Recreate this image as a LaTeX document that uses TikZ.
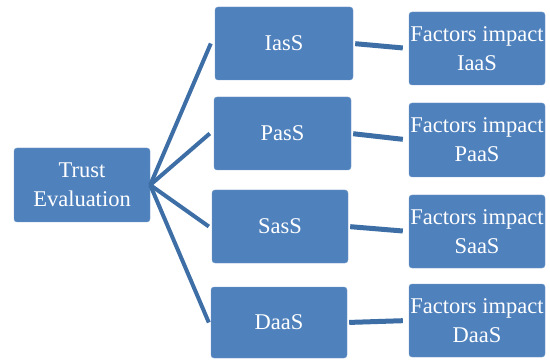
\documentclass[tikz,border=0pt]{standalone}
\usepackage{fontspec}
\setmainfont{Liberation Serif}
\definecolor{boxblue}{HTML}{4F81BD}
\definecolor{lineblue}{HTML}{3E6EA6}
\tikzset{
  box/.style={draw=boxblue!80!white, fill=boxblue, rounded corners=3pt,
    text=white, align=center, minimum width=136pt, minimum height=73pt,
    inner sep=0pt, font=\fontsize{22.5}{29}\selectfont},
  link/.style={lineblue, line width=4pt},
}
\begin{document}
\begin{tikzpicture}[x=1pt, y=-1pt]
    \useasboundingbox (0,0) rectangle (550,361);
    % left root
    \node[box, minimum height=74pt] (trust) at (82,185) {Trust\\Evaluation};
    % service models
    \node[box, minimum width=138pt] (ias) at (284,43.5) {IasS};
    \node[box, minimum width=137pt] (pas) at (282.5,133.5) {PasS};
    \node[box] (sas) at (280,226.5) {SasS};
    \node[box, minimum height=71pt] (daa) at (279,322.5) {DaaS};
    % factors
    \node[box] (fi) at (477,48.5) {Factors impact\\IaaS};
    \node[box, minimum height=74pt] (fp) at (477,140) {Factors impact\\PaaS};
    \node[box] (fs) at (477,231.5) {Factors impact\\SaaS};
    \node[box] (fd) at (477,320.5) {Factors impact\\DaaS};
    % fan out
    \draw[link] (trust.east) -- ([xshift=-4pt]ias.west);
    \draw[link] (trust.east) -- ([xshift=-4pt]pas.west);
    \draw[link] (trust.east) -- ([xshift=-3pt]sas.west);
    \draw[link] (trust.east) -- ([xshift=-2pt]daa.west);
    % to factors
    \draw[link, line width=5pt, shorten <=2pt, shorten >=6pt] (ias.east) -- (fi.west);
    \draw[link, line width=5pt, shorten <=2pt, shorten >=6pt] (pas.east) -- (fp.west);
    \draw[link, line width=5pt, shorten <=2pt, shorten >=6pt] (sas.east) -- (fs.west);
    \draw[link, line width=5pt, shorten <=2pt, shorten >=6pt] (daa.east) -- (fd.west);
\end{tikzpicture}
\end{document}
